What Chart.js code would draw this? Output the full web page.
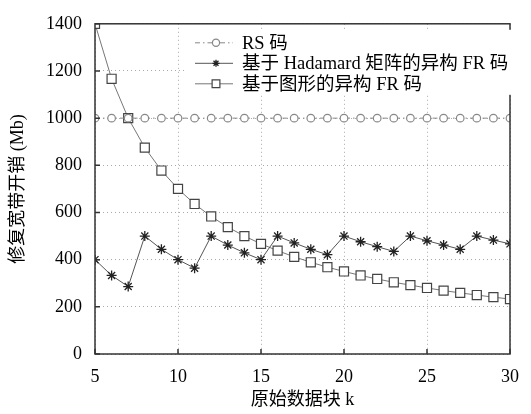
<!DOCTYPE html>
<html>
<head>
<meta charset="utf-8">
<script src="https://cdn.jsdelivr.net/npm/chart.js@4/dist/chart.umd.min.js"></script>
<style>
  body { margin: 0; background: #fff; }
  #wrap { width: 531px; height: 414px; }
</style>
</head>
<body>
<div id="wrap"><canvas id="myChart" width="531" height="414"></canvas></div>
<script>
// 原始数据块 k
const kValues = [5, 6, 7, 8, 9, 10, 11, 12, 13, 14, 15, 16, 17, 18, 19, 20, 21, 22, 23, 24, 25, 26, 27, 28, 29, 30];
// RS 码
const rsCost = [1000, 1000, 1000, 1000, 1000, 1000, 1000, 1000, 1000, 1000, 1000, 1000, 1000,
                1000, 1000, 1000, 1000, 1000, 1000, 1000, 1000, 1000, 1000, 1000, 1000, 1000];
// 基于 Hadamard 矩阵的异构 FR 码
const hadamardCost = [400, 333, 286, 500, 444, 400, 364, 500, 462, 429, 400, 500, 471,
                      444, 421, 500, 476, 455, 435, 500, 480, 462, 444, 500, 483, 467];
// 基于图形的异构 FR 码
const graphCost = [1400, 1167, 1000, 875, 778, 700, 636, 583, 538, 500, 467, 438, 412,
                   389, 368, 350, 333, 318, 304, 292, 280, 269, 259, 250, 241, 233];

const seriesNames = ['RS 码', '基于 Hadamard 矩阵的异构 FR 码', '基于图形的异构 FR 码'];
const xTicks = [5, 10, 15, 20, 25, 30];
const yTicks = [0, 200, 400, 600, 800, 1000, 1200, 1400];

const FONT = "'Liberation Serif', 'Noto Sans CJK SC', serif";

function toPoints(values) {
    return kValues.map((k, i) => ({ x: k, y: values[i] }));
}

// 枠線と内向きの目盛り
const framePlugin = {
    id: 'frame',
    afterDatasetsDraw(chart) {
        const ctx = chart.ctx;
        const a = chart.chartArea;
        const xs = chart.scales.x, ys = chart.scales.y;
        ctx.save();
        ctx.strokeStyle = '#333';
        ctx.lineWidth = 1.5;
        ctx.setLineDash([]);
        ctx.beginPath();
        xTicks.forEach(v => {
            const px = xs.getPixelForValue(v);
            ctx.moveTo(px, a.bottom);
            ctx.lineTo(px, a.bottom - 5);
        });
        yTicks.forEach(v => {
            const py = ys.getPixelForValue(v);
            ctx.moveTo(a.left, py);
            ctx.lineTo(a.left + 5, py);
        });
        ctx.stroke();
        ctx.strokeRect(a.left, a.top, a.right - a.left, a.bottom - a.top);
        ctx.restore();
    }
};

// 凡例（グラフ内、白背景）
const legendPlugin = {
    id: 'boxLegend',
    afterDraw(chart) {
        const ctx = chart.ctx;
        const a = chart.chartArea;
        const bx = a.left + 92, by = a.top + 6;
        ctx.save();
        ctx.fillStyle = '#fff';
        ctx.fillRect(bx, by, 325, 65);
        const x0 = a.left + 100, y0 = a.top + 19, rowH = 20.5;
        chart.data.datasets.forEach((ds, i) => {
            const y = y0 + i * rowH;
            ctx.save();
            ctx.strokeStyle = ds.borderColor;
            ctx.lineWidth = ds.borderWidth;
            ctx.setLineDash(ds.borderDash || []);
            ctx.beginPath();
            ctx.moveTo(x0, y);
            ctx.lineTo(x0 + 38, y);
            ctx.stroke();
            ctx.restore();
            ctx.save();
            ctx.fillStyle = ds.pointBackgroundColor;
            ctx.strokeStyle = ds.pointBorderColor;
            ctx.lineWidth = ds.pointBorderWidth;
            ctx.setLineDash([]);
            if (Chart.helpers && Chart.helpers.drawPoint) {
                Chart.helpers.drawPoint(ctx, {
                    pointStyle: ds.pointStyle,
                    radius: ds.legendRadius,
                    borderWidth: ds.pointBorderWidth,
                    rotation: 0
                }, x0 + 21, y);
            }
            ctx.restore();
            ctx.fillStyle = '#000';
            ctx.font = '18.5px ' + FONT;
            ctx.textBaseline = 'middle';
            ctx.textAlign = 'left';
            ctx.fillText(ds.label, x0 + 47, y + 1);
        });
        ctx.restore();
    }
};

const ctx = document.getElementById('myChart').getContext('2d');
const myChart = new Chart(ctx, {
    type: 'line',
    data: {
        datasets: [{
            label: seriesNames[0],
            data: toPoints(rsCost),
            borderColor: '#888',
            borderWidth: 1,
            borderDash: [5, 3, 1.5, 3],
            pointStyle: 'circle',
            pointRadius: 3.8,
            legendRadius: 3.6,
            pointBorderColor: '#888',
            pointBackgroundColor: '#fff',
            pointBorderWidth: 1.2,
            clip: 0
        }, {
            label: seriesNames[1],
            data: toPoints(hadamardCost),
            borderColor: '#555',
            borderWidth: 1,
            pointStyle: 'star',
            pointRadius: 5,
            legendRadius: 3.5,
            pointBorderColor: '#222',
            pointBackgroundColor: '#222',
            pointBorderWidth: 1.3,
            clip: 0
        }, {
            label: seriesNames[2],
            data: toPoints(graphCost),
            borderColor: '#777',
            borderWidth: 1,
            pointStyle: 'rect',
            pointRadius: 6.4,
            legendRadius: 5.5,
            pointBorderColor: '#444',
            pointBackgroundColor: '#fff',
            pointBorderWidth: 1.2,
            clip: 0
        }]
    },
    options: {
        responsive: false,
        animation: false,
        devicePixelRatio: 1,
        layout: { padding: { top: 21, right: 11, left: 0, bottom: 0 } },
        plugins: {
            legend: { display: false },
            tooltip: { enabled: false }
        },
        scales: {
            x: {
                type: 'linear',
                min: 5,
                max: 30,
                afterFit: s => { s.height = 60; },
                afterBuildTicks: s => { s.ticks = xTicks.map(v => ({ value: v })); },
                border: { display: false, dash: [1, 3] },
                grid: {
                    color: '#aaa',
                    lineWidth: 1,
                    drawTicks: false
                },
                ticks: {
                    padding: 12,
                    color: '#000',
                    font: { family: FONT, size: 18 },
                    maxRotation: 0,
                    callback: v => String(v)
                },
                title: {
                    display: true,
                    text: '原始数据块 k',
                    color: '#000',
                    font: { family: FONT, size: 18 },
                    padding: { top: 0, bottom: 3 }
                }
            },
            y: {
                min: 0,
                max: 1400,
                afterFit: s => { s.width = 95; },
                afterBuildTicks: s => { s.ticks = yTicks.map(v => ({ value: v })); },
                border: { display: false, dash: [1, 3] },
                grid: {
                    color: '#aaa',
                    lineWidth: 1,
                    drawTicks: false
                },
                ticks: {
                    padding: 13,
                    color: '#000',
                    font: { family: FONT, size: 18 },
                    callback: v => String(v)
                },
                title: {
                    display: true,
                    text: '修复宽带开销 (Mb)',
                    color: '#000',
                    font: { family: FONT, size: 18 },
                    padding: { top: 7, bottom: 0 }
                }
            }
        }
    },
    plugins: [framePlugin, legendPlugin]
});
</script>
</body>
</html>
